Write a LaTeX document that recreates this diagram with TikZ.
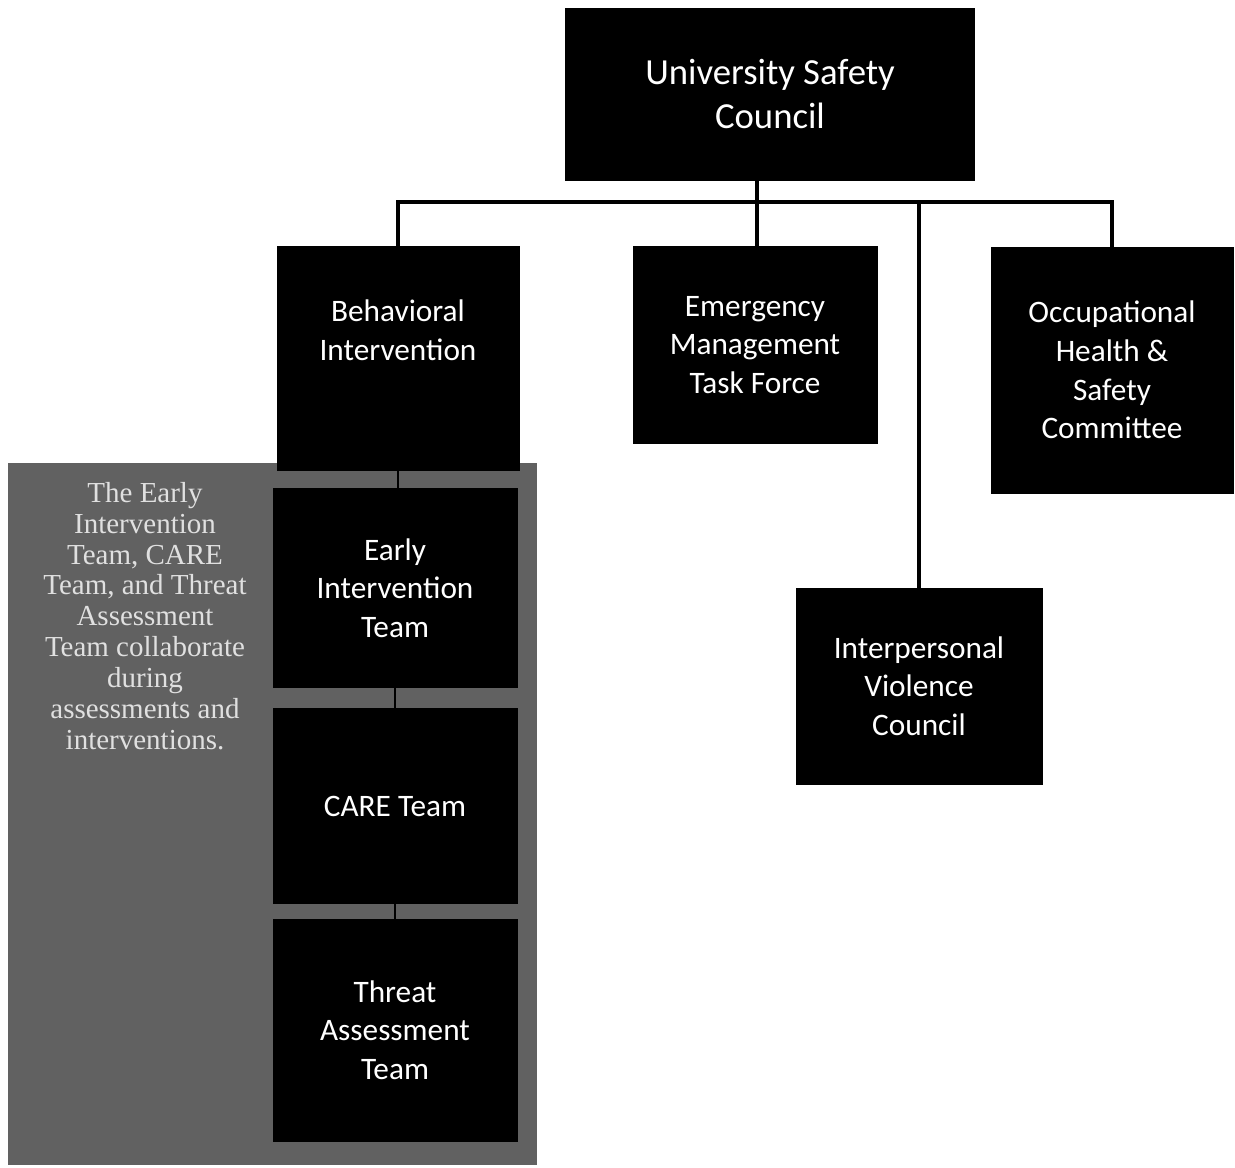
\documentclass[tikz,border=0pt]{standalone}
\usepackage{fontspec}
\setmainfont{Carlito}
\newfontfamily\notefont{Liberation Serif}
\usetikzlibrary{positioning}

\begin{document}
\begin{tikzpicture}
[x=0.02cm,y=-0.02cm,%
  box/.style={shape=rectangle,fill=black,draw=black,text=white,align=center,%
    inner sep=0pt,minimum width=4.88cm,font=\fontsize{17.8}{22}\selectfont},%
  boxtext/.style={text=white,align=center,font=\fontsize{17.8}{22}\selectfont},%
  link/.style={draw=black,line width=2.3pt},%
  stacklink/.style={draw=black,line width=1.6pt}]
\useasboundingbox (0,0) rectangle (1235,1168);
% gray panel behind the three teams
\fill[black!62] (8,463) rectangle (537,1165);
\node[text=white!88!black,align=center,font=\notefont\fontsize{16.5}{17.6}\selectfont] (note) at (145,616)
  {The Early\\Intervention\\Team, CARE\\Team, and Threat\\Assessment\\Team collaborate\\during\\assessments and\\interventions.};
% top level
\node[box,minimum width=8.18cm,minimum height=3.44cm,font=\fontsize{20.9}{25.6}\selectfont] (usc) at (770,94)
  {University Safety\\Council};
\node[box,minimum width=4.84cm,minimum height=4.48cm,%
  label={[boxtext,yshift=0.56cm]center:Behavioral\\Intervention}] (bi) at (398,358) {};
\node[box,minimum height=3.94cm] (emtf) at (755,345) {Emergency\\Management\\Task Force};
\node[box,minimum width=4.84cm,minimum height=4.92cm] (ohsc) at (1112,370)
  {Occupational\\Health \&\\Safety\\Committee};
\node[box,minimum width=4.92cm,minimum height=3.92cm] (ivc) at (919,686)
  {Interpersonal\\Violence\\Council};
% teams
\node[box,minimum height=3.98cm] (eit) at (395,588) {Early\\Intervention\\Team};
\node[box,minimum height=3.90cm] (care) at (395,806) {CARE Team};
\node[box,minimum height=4.44cm] (tat) at (395,1030) {Threat\\Assessment\\Team};
% connectors
\coordinate (bus) at (757,202);
\draw[link] (usc.south -| bus) -- (emtf.north -| bus);
\draw[link] (bi.north) |- (bus) -| (ohsc.north);
\draw[link] (bus -| ivc.north) -- (ivc.north);
\draw[stacklink] (bi.south) -- (bi.south |- eit.north);
\draw[stacklink] (eit.south) -- (care.north);
\draw[stacklink] (care.south) -- (tat.north);
\end{tikzpicture}
\end{document}
